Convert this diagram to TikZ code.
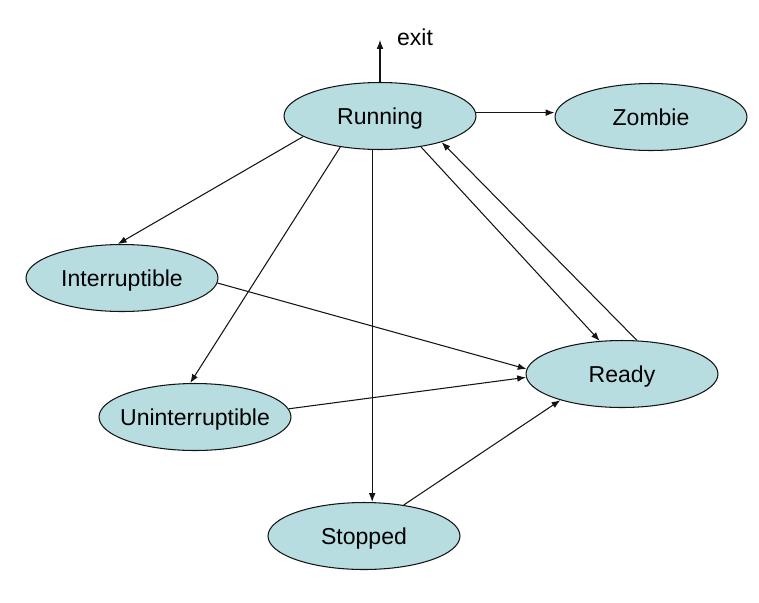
\documentclass[tikz,border=0pt]{standalone}
\usepackage{fontspec}
\setmainfont{Liberation Sans}
\usepackage{tikz}
\usetikzlibrary{arrows.meta, shapes.geometric}
\usepackage{xcolor}
\definecolor{statefill}{RGB}{183, 221, 224}
\definecolor{edgeblack}{RGB}{20, 20, 20}

\begin{document}
\begin{tikzpicture}[x=0.02cm, y=-0.02cm, >={Latex[length=5pt, width=3.8pt]},
    procstate/.style={ellipse, draw=edgeblack, line width=0.6pt, fill=statefill,
      minimum width=3.84cm, minimum height=1.34cm, inner xsep=-7pt, inner ysep=0pt,
      text height=0.95em, text depth=0pt,
      font=\fontsize{13.1}{15}\selectfont},
    trans/.style={->, edgeblack, line width=0.6pt}]

  \useasboundingbox (0,0) rectangle (759,602);

  % States
  \node[procstate] (run) at (380,116) {Running};
  \node[procstate] (zom) at (651,117) {Zombie};
  \node[procstate] (int) at (122,278) {Interruptible};
  \node[procstate] (rdy) at (622,374) {Ready};
  \node[procstate] (unint) at (195,417) {Uninterruptible};
  \node[procstate] (stop) at (364,536) {Stopped};

  % Exit
  \coordinate (exittip) at (380,40);
  \node[font=\fontsize{13.1}{15}\selectfont] (exit) at (415,37) {exit};
  \draw[trans] (run.north) -- (exittip);

  % Transitions out of Running
  \draw[trans] (run.2) -- (run.2 -| zom.west);
  \draw[trans] (run.-165) -- (int.97);
  \draw[trans] (run.-142) -- (unint.98);
  \draw[trans] (run.-103) -- (run.-103 |- stop.north);
  \draw[trans] (run.-37) -- (rdy.124);
  \draw[trans] (rdy.66) -- (run.-23);

  % Into Ready
  \draw[trans] (int.-3) -- (rdy.177);
  \draw[trans] (unint.5) -- (rdy.-178);
  \draw[trans] (stop.38) -- (rdy.-157);

\end{tikzpicture}
\end{document}
